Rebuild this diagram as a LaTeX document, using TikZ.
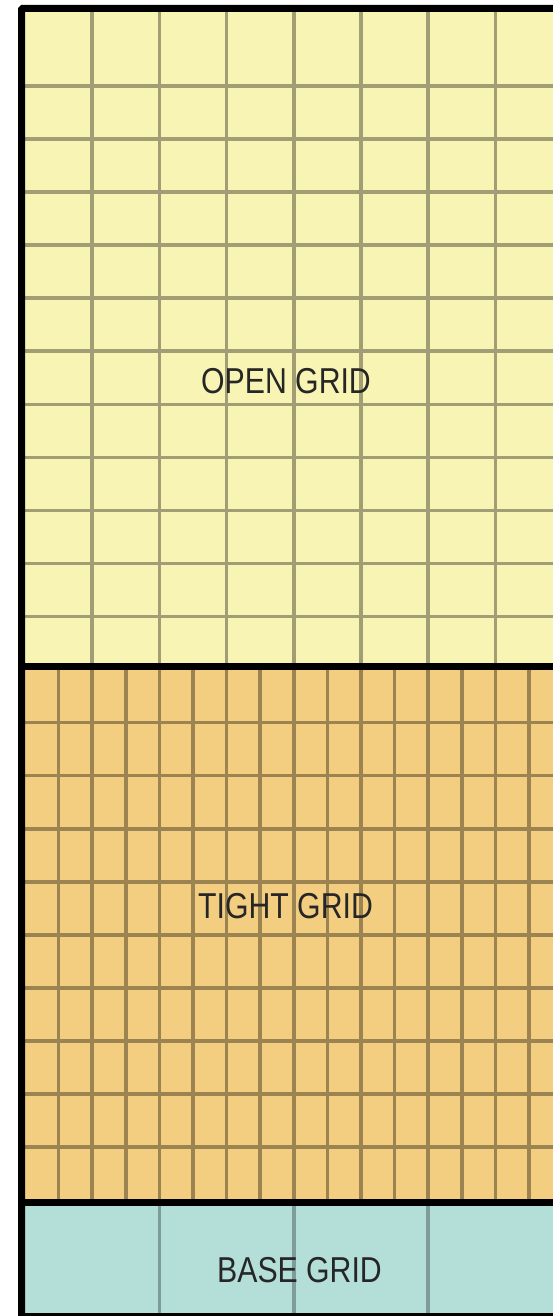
\documentclass[tikz,border=0pt]{standalone}
\usepackage{fontspec}
\setmainfont{Liberation Sans}
\definecolor{openfill}{HTML}{F8F4B4}
\definecolor{openline}{HTML}{A19D74}
\definecolor{tightfill}{HTML}{F3CE80}
\definecolor{tightline}{HTML}{9C8452}
\definecolor{basefill}{HTML}{B4DED8}
\definecolor{basegrid}{HTML}{7E9C98}
\definecolor{labeltext}{HTML}{262626}
\tikzset{
  gridline/.style={line width=3.6pt},
  frameline/.style={line width=7pt, black},
  zonelabel/.style={font=\fontsize{36}{36}\selectfont, text=labeltext, inner sep=0pt, xscale=0.84},
}
\begin{document}
\begin{tikzpicture}[x=1pt, y=-1pt]
\useasboundingbox (0,0) rectangle (553,1316);
\clip (0,0) rectangle (553,1316);
% zone fills
\fill[openfill] (25,12) rectangle (600,663);
\fill[tightfill] (25,670) rectangle (600,1199);
\fill[basefill] (25,1206) rectangle (600,1313);
% open grid
\foreach \k in {1,...,8} {\draw[gridline, draw=openline] (25+67.2*\k,12) -- (25+67.2*\k,663);}
\foreach \k in {0,...,10} {\draw[gridline, draw=openline] (25,86+53.05*\k) -- (600,86+53.05*\k);}
% tight grid
\foreach \k in {1,...,17} {\draw[gridline, draw=tightline] (25+33.6*\k,670) -- (25+33.6*\k,1199);}
\foreach \k in {12,...,20} {\draw[gridline, draw=tightline] (25,86+53.05*\k) -- (600,86+53.05*\k);}
% base grid
\foreach \k in {1,...,4} {\draw[gridline, draw=basegrid] (25+134.4*\k,1206) -- (25+134.4*\k,1313);}
% frame
\draw[frameline, rounded corners=1pt] (21.5,1340) -- (21.5,8.5) -- (620,8.5);
\draw[frameline] (18,666.5) -- (620,666.5);
\draw[frameline] (18,1202.5) -- (620,1202.5);
\draw[frameline] (18,1316.5) -- (620,1316.5);
% labels
\node[zonelabel] (open) at (286,381) {OPEN GRID};
\node[zonelabel] (tight) at (285.5,906) {TIGHT GRID};
\node[zonelabel] (base) at (299.5,1270) {BASE GRID};
\end{tikzpicture}
\end{document}
